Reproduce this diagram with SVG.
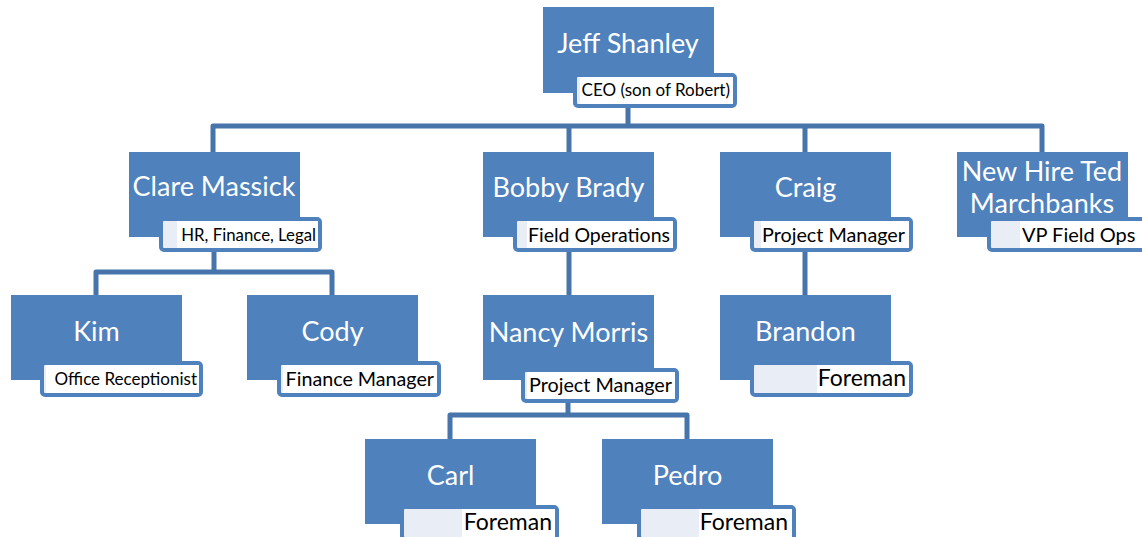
<svg xmlns="http://www.w3.org/2000/svg" width="1142" height="537" viewBox="0 0 1142 537">
<style>
.box{fill:#4f81bd}
.lbl{fill:#e9eef6;stroke:#4f81bd;stroke-width:4}
.hl{fill:#ffffff}
.name{font-family:Lato,"Open Sans",sans-serif;font-size:27px;fill:#ffffff;text-anchor:middle}
.role{font-family:Lato,"Open Sans",sans-serif;fill:#000000;text-anchor:end}
.con{fill:none;stroke:#4674ab;stroke-width:5;stroke-linejoin:round;stroke-linecap:butt}
</style>
<rect width="1142" height="537" fill="#ffffff"/>
<g id="connectors">
<path class="con" d="M628 100V126"/>
<path class="con" d="M213 152V126H1042V152"/>
<path class="con" d="M569 126V152"/>
<path class="con" d="M805 126V152"/>
<path class="con" d="M214 250V272"/>
<path class="con" d="M96 295V272H332V295"/>
<path class="con" d="M569 250V295"/>
<path class="con" d="M805 250V295"/>
<path class="con" d="M568 401V415"/>
<path class="con" d="M450 439V415H687V439"/>
</g>
<g id="jeff">
<rect class="box" x="543" y="7" width="171" height="86"/>
<text class="name" x="628" y="53">Jeff Shanley</text>
<rect class="lbl" x="575" y="75" width="160" height="31" rx="3"/>
<rect class="hl" x="580" y="77" width="153" height="27"/>
<text class="role" x="730" y="96" font-size="17">CEO (son of Robert)</text>
</g>
<g id="clare">
<rect class="box" x="129" y="152" width="171" height="85"/>
<text class="name" x="214" y="196">Clare Massick</text>
<rect class="lbl" x="161" y="219" width="159" height="31" rx="3"/>
<rect class="hl" x="177" y="221" width="141" height="27"/>
<text class="role" x="316" y="241" font-size="16.8">HR, Finance, Legal</text>
</g>
<g id="bobby">
<rect class="box" x="483" y="152" width="171" height="85"/>
<text class="name" x="568.5" y="197">Bobby Brady</text>
<rect class="lbl" x="515" y="219" width="160" height="31" rx="3"/>
<rect class="hl" x="527" y="221" width="146" height="27"/>
<text class="role" x="670" y="242" font-size="19.5">Field Operations</text>
</g>
<g id="craig">
<rect class="box" x="720" y="152" width="171" height="85"/>
<text class="name" x="805.5" y="197">Craig</text>
<rect class="lbl" x="752" y="219" width="159" height="31" rx="3"/>
<rect class="hl" x="761" y="221" width="148" height="27"/>
<text class="role" x="905" y="242" font-size="19.8">Project Manager</text>
</g>
<g id="ted">
<rect class="box" x="957" y="152" width="171" height="85"/>
<text class="name" x="1042" y="181">New Hire Ted</text>
<text class="name" x="1042" y="213">Marchbanks</text>
<rect class="lbl" x="989" y="219" width="160" height="31" rx="3"/>
<rect class="hl" x="1020" y="221" width="130" height="27"/>
<text class="role" x="1022" y="242" font-size="20" style="text-anchor:start">VP Field Ops</text>
</g>
<g id="kim">
<rect class="box" x="11" y="295" width="171" height="85"/>
<text class="name" x="96.5" y="341">Kim</text>
<rect class="lbl" x="42" y="363" width="159" height="32" rx="3"/>
<rect class="hl" x="46" y="365" width="153" height="28"/>
<text class="role" x="197" y="385" font-size="17">Office Receptionist</text>
</g>
<g id="cody">
<rect class="box" x="247" y="295" width="171" height="85"/>
<text class="name" x="332.5" y="341">Cody</text>
<rect class="lbl" x="279" y="363" width="160" height="32" rx="3"/>
<rect class="hl" x="283" y="365" width="154" height="28"/>
<text class="role" x="434" y="386" font-size="19.7">Finance Manager</text>
</g>
<g id="nancy">
<rect class="box" x="483" y="295" width="171" height="85"/>
<text class="name" x="568.5" y="342">Nancy Morris</text>
<rect class="lbl" x="523" y="370" width="154" height="31" rx="3"/>
<rect class="hl" x="527" y="372" width="148" height="27"/>
<text class="role" x="672" y="392" font-size="19.8">Project Manager</text>
</g>
<g id="brandon">
<rect class="box" x="720" y="295" width="171" height="85"/>
<text class="name" x="805.5" y="341">Brandon</text>
<rect class="lbl" x="752" y="363" width="159" height="32" rx="3"/>
<rect class="hl" x="817" y="365" width="92" height="28"/>
<text class="role" x="906" y="386" font-size="23">Foreman</text>
</g>
<g id="carl">
<rect class="box" x="365" y="439" width="171" height="85"/>
<text class="name" x="450.5" y="485">Carl</text>
<rect class="lbl" x="402" y="507" width="155" height="32" rx="3"/>
<rect class="hl" x="462" y="509" width="93" height="28"/>
<text class="role" x="552" y="530" font-size="23">Foreman</text>
</g>
<g id="pedro">
<rect class="box" x="602" y="439" width="171" height="85"/>
<text class="name" x="687.5" y="485">Pedro</text>
<rect class="lbl" x="639" y="507" width="155" height="32" rx="3"/>
<rect class="hl" x="699" y="509" width="93" height="28"/>
<text class="role" x="788" y="530" font-size="23">Foreman</text>
</g>
</svg>
